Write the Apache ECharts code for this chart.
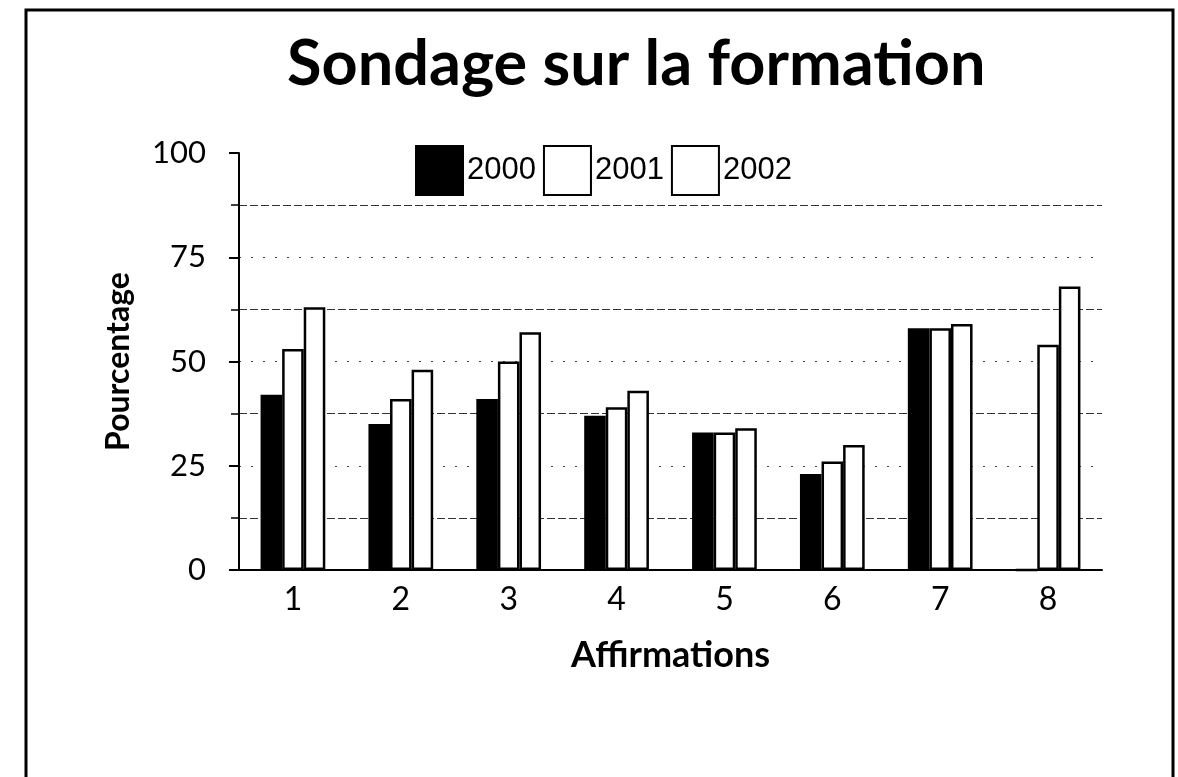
<!DOCTYPE html>
<html><head><meta charset="utf-8">
<script src="https://cdn.jsdelivr.net/npm/echarts@6/dist/echarts.min.js"></script>
<style>html,body{margin:0;padding:0;background:#fff}#c{width:1178px;height:777px}</style>
</head><body><div id="c"></div>
<script>
const categories = ['1','2','3','4','5','6','7','8'];
const years = ['2000','2001','2002'];
const s2000 = [42, 35, 41, 37, 33, 23, 58, 0];
const s2001 = [53, 41, 50, 39, 33, 26, 58, 54];
const s2002 = [63, 48, 57, 43, 34, 30, 59, 68];
const yTicks = [0, 25, 50, 75, 100];

const chart = echarts.init(document.getElementById('c'), null, {renderer:'canvas'});
const fills = ['#000000', '#ffffff', '#ffffff'];
const data = [s2000, s2001, s2002];
chart.setOption({
  animation: false,
  backgroundColor: '#fff',
  graphic: [{type:'rect', shape:{x:26, y:10, width:1147, height:820}, style:{fill:'none', stroke:'#000', lineWidth:3}}],
  title: {text:'Sondage sur la formation', left:282, top:28,
    textStyle:{fontFamily:'Lato', fontWeight:'bold', fontSize:63, color:'#000'}},
  legend: {left:410, top:140, itemWidth:47, itemHeight:49, itemGap:7,
    icon:'rect',
    textStyle:{fontFamily:'Liberation Sans', fontSize:31, color:'#000', padding:[0,0,0,-1]},
    data: years},
  grid: {left:239, right:76, top:153, bottom:207},
  xAxis: {type:'category', data:categories,
    axisLine:{lineStyle:{color:'#000', width:2}},
    axisTick:{show:false},
    axisLabel:{fontFamily:'Lato', fontSize:32, color:'#000', margin:14},
    name:'Affirmations', nameLocation:'middle', nameGap:67,
    nameTextStyle:{fontFamily:'Lato', fontWeight:'bold', fontSize:36, color:'#000'}},
  yAxis: {type:'value', min:0, max:100, interval:25,
    axisLine:{show:true, lineStyle:{color:'#000', width:2}},
    axisTick:{show:true, length:10, lineStyle:{color:'#000', width:2}},
    minorTick:{show:true, splitNumber:2, length:8, lineStyle:{color:'#000', width:1.5}},
    splitLine:{show:true, showMaxLine:false, lineStyle:{color:'#444', width:1, type:[2,10]}},
    minorSplitLine:{show:true, lineStyle:{color:'#333', width:1, type:[8,3]}},
    axisLabel:{fontFamily:'Lato', fontSize:31, color:'#000', margin:33,
      formatter: v => yTicks.includes(v) ? String(v) : ''},
    name:'Pourcentage', nameLocation:'middle', nameGap:104, nameRotate:90,
    nameTextStyle:{fontFamily:'Lato', fontWeight:'bold', fontSize:32, color:'#000'}},
  series: years.map((y,i) => ({
    name:y, type:'bar', data:data[i], barGap:'0%', barCategoryGap:'40%',
    itemStyle:{color:fills[i], borderColor:'#000', borderWidth:2.5}
  }))
});
</script></body></html>
